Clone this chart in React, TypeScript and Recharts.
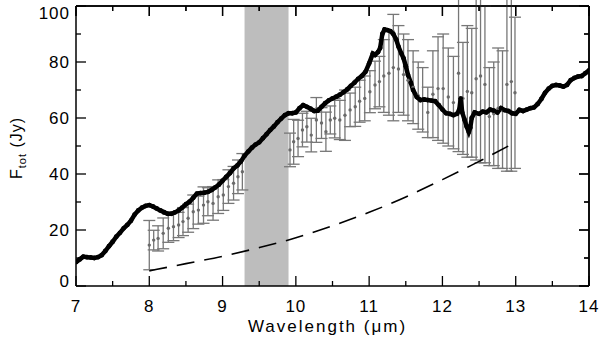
import React from 'react';
import {
  ComposedChart, Line, Scatter, XAxis, YAxis, ErrorBar, ReferenceArea, ReferenceLine, Label,
} from 'recharts';

// ---- Data ----
const blackX = [7.00,7.05,7.10,7.15,7.20,7.25,7.30,7.35,7.40,7.45,7.50,7.55,7.60,7.65,7.70,7.75,7.80,7.85,7.90,7.95,
  8.00,8.05,8.10,8.15,8.20,8.25,8.30,8.35,8.40,8.45,8.50,8.55,8.60,8.65,8.70,8.75,8.80,8.85,8.90,8.95,
  9.00,9.05,9.10,9.15,9.20,9.25,9.30,9.35,9.40,9.45,9.50,9.55,9.60,9.65,9.70,9.75,9.80,9.85,9.90,9.95,
  10.00,10.05,10.10,10.15,10.20,10.25,10.30,10.35,10.40,10.45,10.50,10.55,10.60,10.65,10.70,10.75,10.80,10.85,10.90,10.95,
  11.00,11.05,11.08,11.12,11.15,11.18,11.21,11.25,11.29,11.33,11.37,11.40,11.44,11.47,11.50,11.53,11.57,11.60,11.65,11.70,
  11.75,11.80,11.85,11.90,11.95,12.00,12.05,12.10,12.15,12.20,12.23,12.25,12.27,12.30,12.33,12.36,12.38,12.40,12.44,12.50,
  12.55,12.60,12.65,12.70,12.75,12.80,12.85,12.90,12.95,13.00,13.05,13.10,13.15,13.20,13.25,13.30,13.35,13.40,13.45,13.50,
  13.55,13.60,13.65,13.70,13.75,13.80,13.85,13.90,13.95,14.00];
const blackY = [8.5,9.5,10.5,10.3,10.2,10.0,10.3,11.0,12.5,14.2,15.8,17.6,19.0,20.6,21.8,23.3,25.5,27.0,28.0,28.6,
  28.9,28.4,27.7,27.0,26.4,25.8,25.8,26.3,27.0,28.0,29.2,30.1,31.5,33.0,33.2,33.3,33.6,34.3,35.2,36.2,
  37.6,39.0,40.3,42.0,43.0,44.5,46.5,48.0,49.4,50.5,51.3,52.8,54.2,55.7,57.0,58.5,59.8,61.0,61.7,61.7,
  62.0,63.5,64.6,64.0,63.3,62.5,62.6,64.0,65.3,66.3,67.0,67.6,68.3,69.2,70.2,71.5,72.6,74.0,75.0,76.5,
  79.5,83.0,82.5,83.5,85.0,90.0,91.6,91.4,91.0,90.0,88.0,85.5,83.0,81.3,78.5,75.4,72.5,70.0,67.5,66.4,
  66.6,66.4,66.2,66.0,64.6,63.0,61.7,61.5,61.0,61.5,63.0,67.0,62.0,59.5,57.0,55.0,56.5,60.0,62.0,61.5,
  62.3,62.0,63.0,62.6,62.0,63.5,62.8,62.5,61.7,61.5,62.9,62.5,63.0,63.5,63.8,65.0,66.8,69.0,70.5,71.5,
  71.8,71.6,71.2,71.8,73.5,74.3,74.8,75.0,76.0,77.0];

const grayX = [8.00,8.06,8.12,8.19,8.26,8.33,8.40,8.46,8.53,8.60,8.67,8.74,8.80,8.87,8.94,9.01,9.08,9.15,9.21,9.27,
  9.92,9.97,10.03,10.09,10.15,10.21,10.28,10.35,10.41,10.47,10.53,10.60,10.67,10.74,10.81,10.87,10.94,11.01,11.08,11.14,
  11.20,11.27,11.33,11.40,11.47,11.53,11.60,11.67,11.73,11.80,11.87,11.94,12.01,12.08,12.15,12.22,12.28,12.34,12.40,12.46,
  12.52,12.58,12.64,12.70,12.76,12.82,12.88,12.94,12.99];
const grayY = [14.6,16.4,17.0,18.8,20.6,21.2,21.8,23.0,24.2,26.5,27.1,28.9,30.1,29.5,31.9,32.5,35.5,36.7,39.0,40.8,
  48.6,51.5,52.7,55.7,56.9,53.9,59.3,58.2,55.1,59.3,59.9,59.3,61.0,62.9,64.0,66.0,67.0,69.4,71.8,73.0,
  75.0,76.0,78.0,77.5,75.5,73.5,71.0,68.0,66.5,62.0,68.5,70.5,70.5,67.5,65.5,76.0,67.0,69.5,69.0,74.0,
  75.0,72.0,60.5,61.5,63.5,63.0,72.0,73.0,69.0];
const grayErr = [8.8,3.5,4.5,5.5,5.0,5.0,4.5,5.0,5.0,6.0,5.0,6.5,5.0,6.0,6.0,5.5,6.0,6.0,6.0,6.5,
  6.0,8.0,6.5,6.0,5.5,6.0,8.0,5.5,7.0,5.0,7.0,7.0,9.0,6.0,7.0,7.5,8.0,7.5,8.5,9.0,
  13.0,15.0,19.0,15.5,14.5,14.5,13.0,12.0,11.5,9.0,15.5,18.5,19.5,17.5,16.5,28.0,20.0,23.5,23.0,29.0,
  31.0,28.0,17.5,18.5,21.5,21.0,31.0,32.0,27.0];

const dashX = [8.0,8.5,9.0,9.5,10.0,10.5,11.0,11.5,12.0,12.5,12.9];
const dashY = [5.4,8.0,10.6,13.7,17.2,21.5,26.3,31.8,38.0,44.5,50.0];

const xTicks = [7,7.5,8,8.5,9,9.5,10,10.5,11,11.5,12,12.5,13,13.5,14];
const yTicks = [0,10,20,30,40,50,60,70,80,90,100];
const bandRange = [9.3, 9.9];
const X_DOMAIN = [7, 14];
const Y_DOMAIN = [0, 100];

const blackData = blackX.map((x, i) => ({ x, y: blackY[i] }));
const grayData = grayX.map((x, i) => ({ x, y: grayY[i], err: grayErr[i] }));
const dashData = dashX.map((x, i) => ({ x, y: dashY[i] }));

const FONT = "'Liberation Sans', Arial, sans-serif";
const MAJOR = 10;
const MINOR = 5;
const TICK_W = 1.3;
const MARGIN = { top: 0, right: 0, bottom: 0, left: 0 };
// plot size in px (600 - 76 - 11, 343 - 6 - 57) to turn tick lengths into data units for the mirrored frame
const PLOT_W = 513;
const PLOT_H = 280;
const unitsY = (px: number) => px * (Y_DOMAIN[1] - Y_DOMAIN[0]) / PLOT_H;
const unitsX = (px: number) => px * (X_DOMAIN[1] - X_DOMAIN[0]) / PLOT_W;

function BottomTick(props: any) {
  const { x, y, payload } = props;
  const v = payload.value;
  const major = Number.isInteger(v);
  return (
    <g>
      <line x1={x} x2={x} y1={y} y2={y - (major ? MAJOR : MINOR)} stroke="#000" strokeWidth={TICK_W} />
      {major && (
        <text x={x} y={y + 26} textAnchor="middle" fontFamily={FONT} fontSize={17} letterSpacing={1} fill="#000">{v}</text>
      )}
    </g>
  );
}
function TopTick(props: any) {
  const { x, y, payload } = props;
  const major = Number.isInteger(payload.value);
  return <line x1={x} x2={x} y1={y} y2={y + (major ? MAJOR : MINOR)} stroke="#000" strokeWidth={TICK_W} />;
}
function LeftTick(props: any) {
  const { x, y, payload } = props;
  const v = payload.value;
  const major = v % 20 === 0;
  const shift = v === 100 ? 7 : v === 0 ? -5 : 0;
  return (
    <g>
      <line x1={x} x2={x + (major ? MAJOR : MINOR)} y1={y} y2={y} stroke="#000" strokeWidth={TICK_W} />
      {major && (
        <text x={x - 6} y={y + 6 + shift} textAnchor="end" fontFamily={FONT} fontSize={17} letterSpacing={1} fill="#000">{v}</text>
      )}
    </g>
  );
}
function RightTick(props: any) {
  const { x, y, payload } = props;
  const major = payload.value % 20 === 0;
  return <line x1={x} x2={x - (major ? MAJOR : MINOR)} y1={y} y2={y} stroke="#000" strokeWidth={TICK_W} />;
}

function YLabel(props: any) {
  const vb = props.viewBox || {};
  const cx = (vb.x ?? 0) + 22;
  const cy = (vb.y ?? 0) + (vb.height ?? 0) / 2 + 2;
  return (
    <text x={cx} y={cy} transform={`rotate(-90, ${cx}, ${cy})`} textAnchor="middle" fontFamily={FONT} fontSize={16} letterSpacing={1} fill="#000" stroke="none">
      F<tspan fontSize={11} dy={4}>tot</tspan><tspan dy={-4}> (Jy)</tspan>
    </text>
  );
}

const GrayDot = (props: any) => {
  const { cx, cy } = props;
  if (cx == null || cy == null) return null;
  return <circle cx={cx} cy={cy} r={1.7} fill="#6a6a6a" />;
};

export default function App() {
  const yTop = Y_DOMAIN[1];
  const xRight = X_DOMAIN[1];
  return (
    <div style={{ position: 'absolute', left: 0, top: 0, width: 600, height: 343, background: '#fff' }}>
      <ComposedChart width={600} height={343} margin={MARGIN}>
        <XAxis xAxisId="top" orientation="top" type="number" dataKey="x" domain={X_DOMAIN} ticks={xTicks}
          interval={0} height={6} tickSize={0} tickMargin={0} tickLine={false} tick={<TopTick />}
          axisLine={{ stroke: '#000', strokeWidth: 1.5 }} allowDataOverflow />
        <XAxis xAxisId="main" orientation="bottom" type="number" dataKey="x" domain={X_DOMAIN} ticks={xTicks}
          interval={0} height={57} tickSize={0} tickMargin={0} tickLine={false} tick={<BottomTick />}
          axisLine={{ stroke: '#000', strokeWidth: 1.5 }} allowDataOverflow>
          <Label value="Wavelength (μm)" position="insideBottom" offset={11} dx={-5}
            style={{ fontFamily: FONT, fontSize: 17, letterSpacing: 2, fill: '#000' }} />
        </XAxis>
        <YAxis yAxisId="main" orientation="left" type="number" domain={Y_DOMAIN} ticks={yTicks}
          interval={0} width={76} tickSize={0} tickMargin={0} tickLine={false} tick={<LeftTick />}
          axisLine={{ stroke: '#000', strokeWidth: 1.5 }} allowDataOverflow label={<YLabel />} />
        <YAxis yAxisId="right" orientation="right" type="number" domain={Y_DOMAIN} ticks={yTicks}
          interval={0} width={11} tickSize={0} tickMargin={0} tickLine={false} tick={<RightTick />}
          axisLine={{ stroke: '#000', strokeWidth: 1.5 }} allowDataOverflow />

        <ReferenceArea xAxisId="main" yAxisId="main" x1={bandRange[0]} x2={bandRange[1]} y1={0} y2={100}
          fill="#bdbdbd" fillOpacity={1} stroke="none" ifOverflow="hidden" />

        {/* mirrored frame: top and right borders with inward ticks */}
        <ReferenceLine xAxisId="main" yAxisId="main" y={yTop} stroke="#000" strokeWidth={1.5} ifOverflow="visible" />
        <ReferenceLine xAxisId="main" yAxisId="main" x={xRight} stroke="#000" strokeWidth={1.5} ifOverflow="visible" />
        {xTicks.map((t) => (
          <ReferenceLine key={`tx${t}`} xAxisId="main" yAxisId="main" ifOverflow="visible" stroke="#000" strokeWidth={TICK_W}
            segment={[{ x: t, y: yTop }, { x: t, y: yTop - unitsY(Number.isInteger(t) ? MAJOR : MINOR) }]} />
        ))}
        {yTicks.map((t) => (
          <ReferenceLine key={`ty${t}`} xAxisId="main" yAxisId="main" ifOverflow="visible" stroke="#000" strokeWidth={TICK_W}
            segment={[{ x: xRight, y: t }, { x: xRight - unitsX(t % 20 === 0 ? MAJOR : MINOR), y: t }]} />
        ))}

        <Line xAxisId="top" yAxisId="right" data={blackData} dataKey="y" stroke="#fff" strokeOpacity={0}
          dot={false} activeDot={false} isAnimationActive={false} />

        <Scatter xAxisId="main" yAxisId="main" data={grayData} dataKey="y" shape={<GrayDot />} isAnimationActive={false}>
          <ErrorBar dataKey="err" direction="y" width={6} stroke="#777" strokeWidth={1.3} isAnimationActive={false} />
        </Scatter>

        <Line xAxisId="main" yAxisId="main" data={dashData} dataKey="y" type="monotone" stroke="#000"
          strokeWidth={1.6} strokeDasharray="18 10" dot={false} activeDot={false} isAnimationActive={false} />

        <Line xAxisId="main" yAxisId="main" data={blackData} dataKey="y" type="linear" stroke="#000"
          strokeWidth={4.5} dot={{ r: 2.4, fill: '#000', stroke: 'none' }} activeDot={false} isAnimationActive={false} />
      </ComposedChart>
    </div>
  );
}
